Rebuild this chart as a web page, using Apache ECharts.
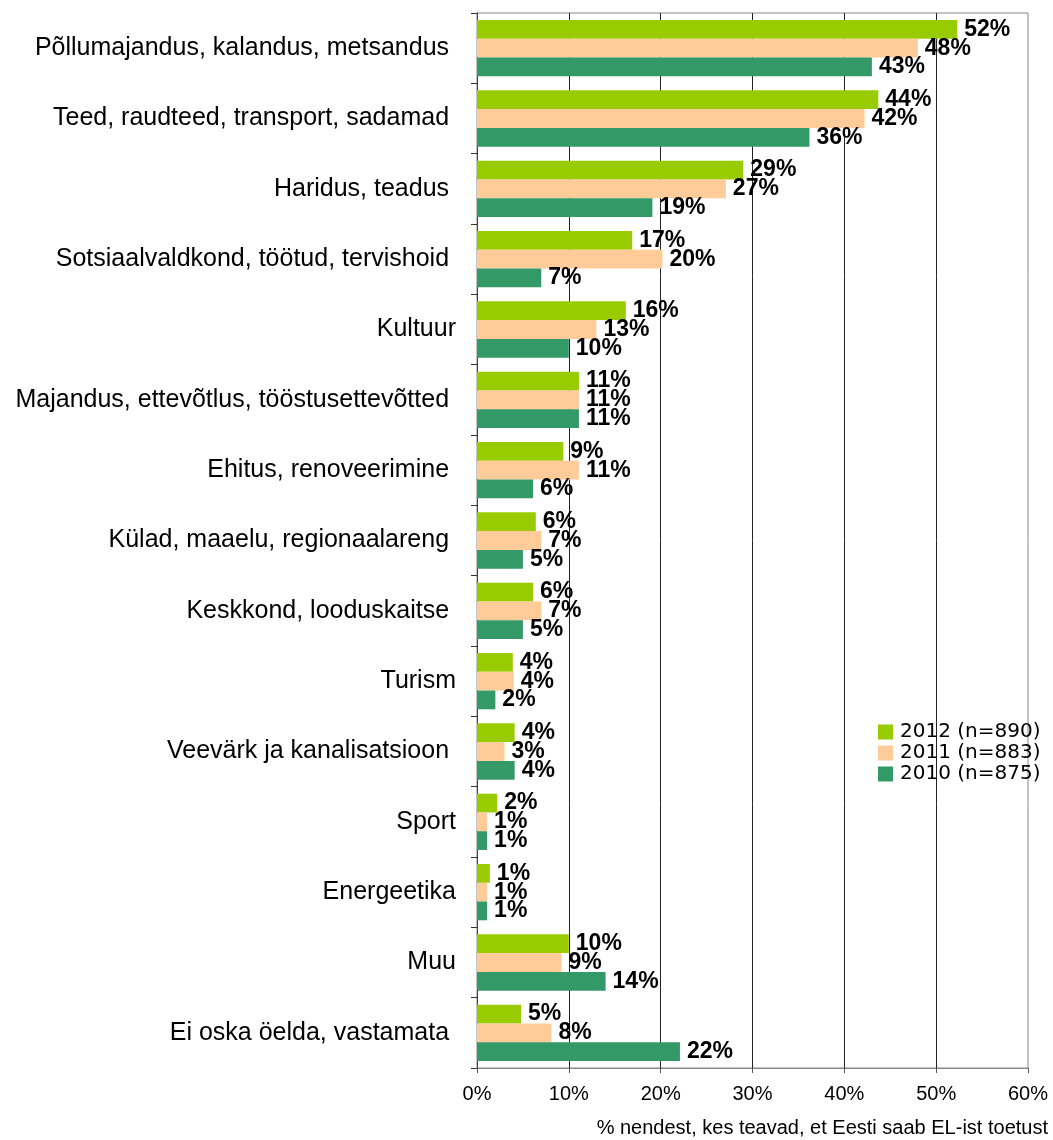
<!DOCTYPE html>
<html>
<head>
<meta charset="utf-8">
<script src="https://cdn.jsdelivr.net/npm/echarts@6/dist/echarts.min.js"></script>
<style>
  html, body { margin: 0; padding: 0; background: #fff; }
  #chart { width: 1053px; height: 1140px; }
</style>
</head>
<body>
<div id="chart"></div>
<script>
// kategooriad (mõnel on lõpus tühik nagu originaalis)
const categories = [
  'Põllumajandus, kalandus, metsandus ',
  'Teed, raudteed, transport, sadamad ',
  'Haridus, teadus ',
  'Sotsiaalvaldkond, töötud, tervishoid ',
  'Kultuur',
  'Majandus, ettevõtlus, tööstusettevõtted ',
  'Ehitus, renoveerimine ',
  'Külad, maaelu, regionaalareng ',
  'Keskkond, looduskaitse ',
  'Turism',
  'Veevärk ja kanalisatsioon ',
  'Sport',
  'Energeetika',
  'Muu',
  'Ei oska öelda, vastamata '
]

const seriesNames = ['2012 (n=890)', '2011 (n=883)', '2010 (n=875)']

const values2012 = [52.3, 43.7, 29.0, 16.9, 16.2, 11.1, 9.4, 6.4, 6.1, 3.9, 4.1, 2.2, 1.4, 10.0, 4.8]
const values2011 = [48.0, 42.2, 27.1, 20.2, 13.0, 11.1, 11.1, 7.0, 7.0, 4.0, 3.0, 1.1, 1.1, 9.2, 8.1]
const values2010 = [43.0, 36.2, 19.1, 7.0, 10.0, 11.1, 6.1, 5.0, 5.0, 2.0, 4.1, 1.1, 1.1, 14.0, 22.1]

const colors = ['#99CC00', '#FFCC99', '#339966']

const myChart = echarts.init(document.getElementById('chart'))

function makeSeries(name, data, color) {
  return {
    name: name,
    type: 'bar',
    data: data,
    barGap: 0,
    barCategoryGap: '20%',
    itemStyle: { color: color },
    label: {
      show: true,
      position: 'right',
      distance: 7,
      color: '#000',
      fontFamily: 'Liberation Sans',
      fontWeight: 'bold',
      fontSize: 23,
      formatter: function (p) {
        return Math.round(p.value) + '%'
      }
    }
  }
}

const option = {
  animation: false,
  backgroundColor: '#fff',
  grid: {
    left: 477,
    right: 25,
    top: 13,
    bottom: 72,
    show: true,
    borderColor: '#888',
    borderWidth: 1,
    containLabel: false
  },
  legend: {
    orient: 'vertical',
    left: 873,
    top: 717,
    itemWidth: 15,
    itemHeight: 15,
    itemGap: 1,
    itemStyle: { borderWidth: 0 },
    icon: 'rect',
    textStyle: {
      fontFamily: 'DejaVu Sans',
      fontSize: 20,
      color: '#000',
      padding: [0, 0, 0, 2]
    },
    data: seriesNames
  },
  xAxis: {
    type: 'value',
    min: 0,
    max: 60,
    interval: 10,
    name: '% nendest, kes teavad, et Eesti saab EL-ist toetust',
    nameLocation: 'end',
    nameGap: 20,
    nameTextStyle: {
      fontFamily: 'Liberation Sans',
      fontSize: 20,
      color: '#000',
      align: 'right',
      verticalAlign: 'top',
      padding: [50, 0, 0, 0]
    },
    axisLine: { show: true, lineStyle: { color: '#888' } },
    axisTick: { show: true, length: 5, lineStyle: { color: '#555' } },
    axisLabel: {
      formatter: '{value}%',
      color: '#000',
      fontFamily: 'Liberation Sans',
      fontSize: 20,
      margin: 16
    },
    splitLine: {
      show: true,
      showMinLine: false,
      showMaxLine: false,
      lineStyle: { color: '#222', width: 1 }
    }
  },
  yAxis: {
    type: 'category',
    inverse: true,
    data: categories,
    axisLine: { show: true, lineStyle: { color: '#444' } },
    axisTick: { show: true, length: 6, lineStyle: { color: '#333' } },
    axisLabel: {
      color: '#000',
      fontFamily: 'Liberation Sans',
      fontSize: 25,
      margin: 21
    },
    splitLine: { show: false }
  },
  series: [
    makeSeries(seriesNames[0], values2012, colors[0]),
    makeSeries(seriesNames[1], values2011, colors[1]),
    makeSeries(seriesNames[2], values2010, colors[2])
  ]
}

myChart.setOption(option)
</script>
</body>
</html>
